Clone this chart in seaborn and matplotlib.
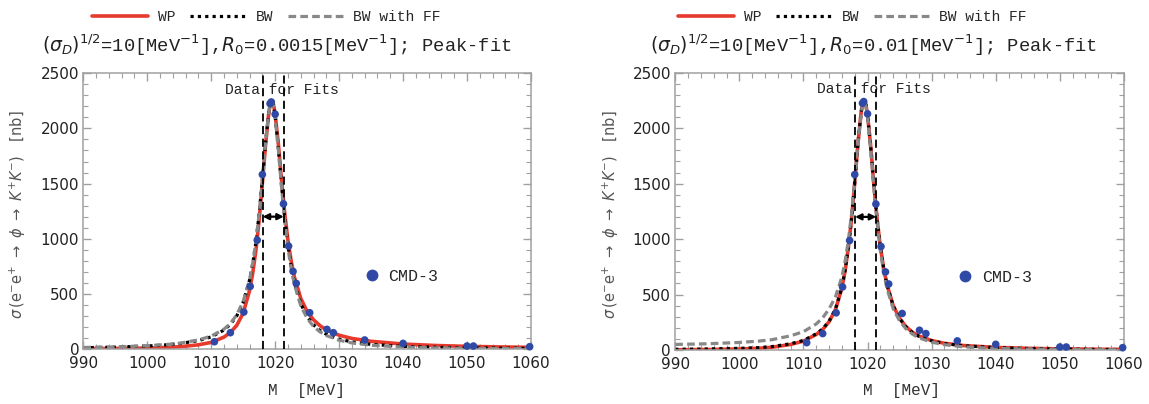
import matplotlib
matplotlib.use("Agg")
import matplotlib.pyplot as plt
import seaborn as sns
from matplotlib.lines import Line2D
from matplotlib.ticker import MultipleLocator

# ---------------- data ----------------
# CMD-3 measurements (M in MeV, cross section in nb)
M_data = [1010.5, 1013.0, 1015.1, 1016.1, 1017.2, 1018.0, 1019.2, 1019.4, 1020.0,
          1021.3, 1022.1, 1022.8, 1023.3, 1025.4, 1028.1, 1029.1, 1034.0, 1040.0,
          1050.0, 1051.0, 1059.8]
sigma_data = [66, 148, 335, 568, 987, 1582, 2225, 2240, 2129,
              1316, 933, 704, 595, 329, 178, 148, 82, 51,
              27, 27, 21]

# model curves, values
M_curve = [990, 995, 1000, 1003, 1005, 1008, 1010, 1012, 1013, 1014, 1015, 1016, 1016.5,
           1017, 1017.5, 1018, 1018.5, 1019, 1019.25, 1019.5, 1019.75, 1020, 1020.5,
           1021, 1021.5, 1022, 1022.5, 1023, 1024, 1025, 1026, 1027, 1028, 1030, 1032,
           1035, 1040, 1045, 1050, 1055, 1060]

# left panel (R0 = 0.0015 MeV^-1)
WP_L = [3, 5, 9, 14, 20, 38, 60, 108, 150, 215, 325, 530, 690,
        900, 1170, 1500, 1850, 2140, 2225, 2248, 2215, 2130, 1860,
        1530, 1230, 985, 800, 655, 460, 340, 265, 212, 175, 125, 96,
        70, 45, 32, 24, 19, 15]
BW_L = [12, 17, 27, 38, 49, 76, 110, 172, 224, 301, 423, 625, 776,
        973, 1227, 1537, 1873, 2148, 2224, 2244, 2205, 2113, 1820,
        1485, 1182, 937, 749, 605, 411, 294, 219, 169, 134, 90, 64,
        42, 24, 16, 11, 8, 6]
FF_L = [14, 19, 30, 41, 52, 82, 117, 180, 232, 310, 432, 630, 780,
        975, 1225, 1535, 1870, 2145, 2222, 2242, 2200, 2105, 1805,
        1465, 1160, 915, 728, 585, 393, 278, 205, 156, 122, 80, 55,
        34, 18, 10, 6, 4, 3]

# right panel (R0 = 0.01 MeV^-1)
WP_R = [2, 4, 9, 15, 24, 50, 80, 140, 185, 255, 365, 560, 715,
        920, 1180, 1510, 1860, 2145, 2228, 2248, 2210, 2120, 1830,
        1480, 1175, 930, 740, 595, 400, 285, 210, 160, 126, 85, 60,
        40, 23, 15, 10, 7, 5]
BW_R = [6, 9, 15, 21, 30, 56, 86, 146, 190, 260, 370, 565, 720,
        925, 1185, 1512, 1860, 2145, 2228, 2248, 2210, 2118, 1828,
        1478, 1172, 928, 738, 593, 398, 283, 208, 158, 124, 83, 58,
        38, 21, 13, 9, 6, 4]
FF_R = [50, 56, 68, 80, 92, 128, 165, 235, 290, 370, 480, 660, 800,
        985, 1225, 1530, 1860, 2135, 2215, 2238, 2195, 2100, 1800,
        1455, 1145, 895, 705, 560, 372, 262, 190, 143, 110, 70, 48,
        28, 14, 8, 5, 3, 2]

fit_window = [1018.05, 1021.35]   # MeV, "Data for Fits"
half_max = 1200                    # nb, level of FWHM arrow
R0_values = ["0.0015", "0.01"]
series_names = ["WP", "BW", "BW with FF"]

# ---------------- style ----------------
sns.set_theme(style="ticks")
plt.rcParams['font.family'] = ['DejaVu Sans']
plt.rcParams['mathtext.fontset'] = 'dejavusans'
MONO = 'Liberation Mono'
RED = '#e8392d'
BLUE = '#2f4aa6'
GRAYL = '#888888'
FRAME = '#a0a0a0'

dot_style = dict(color='black', lw=2.3, linestyle=(0, (1.0, 1.3)), dash_capstyle='butt')
dash_style = dict(color=GRAYL, lw=2.3, linestyle=(0, (2.4, 1.3)), dash_capstyle='butt')
red_style = dict(color=RED, lw=2.6)

fig = plt.figure(figsize=(11.49, 4.04), dpi=100)

panels = [
    dict(rect=[0.0725, 0.1361, 0.3896, 0.6825], wp=WP_L, bw=BW_L, ff=FF_L, R0=R0_values[0],
         title_x=0.241, leg_x=0.232, ylab_x=0.0157, xlab_x=0.267, cmd_x=0.629),
    dict(rect=[0.5877, 0.1337, 0.3905, 0.6863], wp=WP_R, bw=BW_R, ff=FF_R, R0=R0_values[1],
         title_x=0.760, leg_x=0.742, ylab_x=0.532, xlab_x=0.785, cmd_x=0.631),
]

for p in panels:
    ax = fig.add_axes(p['rect'])
    sns.lineplot(x=M_curve, y=p['wp'], ax=ax, errorbar=None, **red_style)
    sns.lineplot(x=M_curve, y=p['bw'], ax=ax, errorbar=None, **dot_style)
    sns.lineplot(x=M_curve, y=p['ff'], ax=ax, errorbar=None, **dash_style)
    sns.scatterplot(x=M_data, y=sigma_data, ax=ax, color=BLUE, s=30, edgecolor='none',
                    zorder=5, clip_on=False)

    for xv in fit_window:
        ax.axvline(xv, color='black', lw=1.3, linestyle=(0, (4.5, 2.5)), zorder=4)
    ax.annotate('', xy=(fit_window[0], half_max), xytext=(fit_window[1], half_max),
                arrowprops=dict(arrowstyle='<|-|>', color='black', lw=1.6,
                                mutation_scale=9, shrinkA=0, shrinkB=0), zorder=6)
    ax.text(sum(fit_window) / 2 + 1.3, 2350, 'Data for Fits', family=MONO, fontsize=10.5,
            ha='center', va='center', color='#222222')

    ax.set_xlim(990, 1060)
    ax.set_ylim(0, 2500)
    ax.xaxis.set_major_locator(MultipleLocator(10))
    ax.xaxis.set_minor_locator(MultipleLocator(2))
    ax.yaxis.set_major_locator(MultipleLocator(500))
    ax.yaxis.set_minor_locator(MultipleLocator(100))
    ax.tick_params(which='both', direction='in', top=True, right=True, color=FRAME,
                   labelsize=11, labelcolor='#222222')
    ax.tick_params(which='major', length=6, width=1)
    ax.tick_params(which='minor', length=3.5, width=0.8)
    ax.tick_params(axis='x', pad=5)
    ax.tick_params(axis='y', pad=3)
    for sp in ax.spines.values():
        sp.set_visible(True)
        sp.set_color(FRAME)
        sp.set_linewidth(1.1)
    ax.set_xlabel('')
    ax.set_ylabel('')

    # CMD-3 legend
    h = Line2D([], [], marker='o', linestyle='none', color=BLUE, markersize=8.5,
               markeredgewidth=0)
    ax.legend([h], ['CMD-3'], loc='center left', bbox_to_anchor=(p['cmd_x'], 0.262),
              frameon=False, prop=dict(family=MONO, size=12), handlelength=0.8,
              handletextpad=0.6, borderpad=0, borderaxespad=0)

    # series legend above
    handles = [Line2D([], [], **red_style), Line2D([], [], **dot_style),
               Line2D([], [], **dash_style)]
    fig.legend(handles, series_names, loc='center', bbox_to_anchor=(p['leg_x'], 0.958),
               ncol=3, frameon=False, prop=dict(family=MONO, size=10.5),
               handlelength=3.8, handletextpad=0.7, columnspacing=1.0)

    title = (r"$(\sigma_D)^{1/2}$=10[MeV$^{-1}$],$R_0$=" + p['R0'] +
             r"[MeV$^{-1}$]; Peak-fit")
    fig.text(p['title_x'], 0.889, title, family=MONO, fontsize=13.5, ha='center',
             va='center', color='#222222')

    fig.text(p['xlab_x'], 1 - 390 / 404, 'M  [MeV]', family=MONO, fontsize=11.5,
             ha='center', va='center', color='#333333')
    fig.text(p['ylab_x'], 1 - 215 / 404,
             r"$\sigma\,(\mathrm{e^{-}e^{+}}\ \rightarrow\ \phi\ \rightarrow\ K^{+}K^{-})\ \ \ [\mathrm{nb}]$",
             fontsize=10.5, rotation=90, ha='center', va='center', color='#555555')

fig.savefig('out.png', dpi=100)
